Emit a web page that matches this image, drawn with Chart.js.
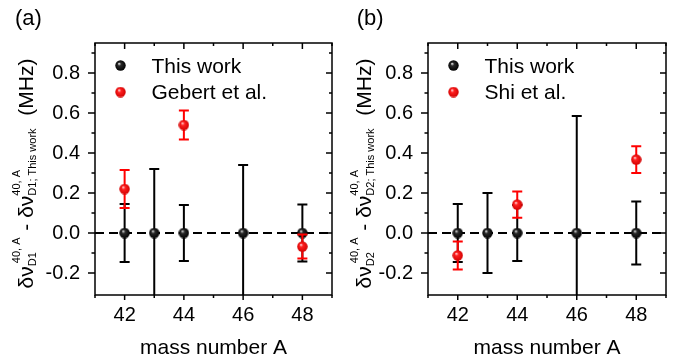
<!DOCTYPE html>
<html>
<head>
<meta charset="utf-8">
<script src="https://cdn.jsdelivr.net/npm/chart.js@4"></script>
<style>
  body { margin: 0; background: #fff; }
  .panel { position: absolute; top: 0; }
</style>
</head>
<body>
<div class="panel" style="left:0"><canvas id="chartA" width="340" height="358"></canvas></div>
<div class="panel" style="left:340px"><canvas id="chartB" width="333" height="358"></canvas></div>
<script>
const FONT = '"Liberation Sans", Arial, sans-serif'

// isotope shift differences (MHz) vs mass number
const massThisWork = [42, 43, 44, 46, 48]
const shiftThisWork = [0, 0, 0, 0, 0]
const errD1ThisWork = [0.145, 0.32, 0.14, 0.34, 0.143]
const errD2ThisWork = [0.145, 0.2, 0.14, 0.585, 0.157]

const massGebert = [42, 44, 48]
const shiftGebert = [0.22, 0.54, -0.068]
const errGebert = [0.095, 0.073, 0.06]

const massShi = [42, 44, 48]
const shiftShi = [-0.112, 0.142, 0.367]
const errShi = [0.07, 0.066, 0.067]

const xTicks = [42, 44, 46, 48]
const yTicks = [-0.2, 0, 0.2, 0.4, 0.6, 0.8]

function makeBall(light, mid, dark) {
  const c = document.createElement('canvas')
  c.width = 11
  c.height = 11
  const g = c.getContext('2d')
  const grad = g.createRadialGradient(4, 3.6, 0.2, 5.5, 5.5, 5.5)
  grad.addColorStop(0, light)
  grad.addColorStop(0.3, mid)
  grad.addColorStop(1, dark)
  g.fillStyle = grad
  g.beginPath()
  g.arc(5.5, 5.5, 5.2, 0, Math.PI * 2)
  g.fill()
  return c
}
const blackBall = makeBall('#e6e6e6', '#2a2a2a', '#000')
const redBall = makeBall('#ffe0e0', '#ff2020', '#d00000')

const toPoints = (xs, ys) => xs.map((x, i) => ({ x, y: ys[i] }))

function drawYTitle(ctx, line, baseX, midY) {
  const big = '21px ' + FONT
  const small = '11px ' + FONT
  const parts = [
    { t: 'δν' },
    { sub: line, sup: '40, A', supShift: 3 },
    { t: ' - ' },
    { t: 'δν' },
    { sub: line + '; This work', sup: '40, A', supShift: 0 },
    { t: '  (MHz)' }
  ]
  let total = 0
  parts.forEach(p => {
    if (p.t) {
      ctx.font = big
      p.w = ctx.measureText(p.t).width
    } else {
      ctx.font = small
      p.w = Math.max(ctx.measureText(p.sub).width, ctx.measureText(p.sup).width + p.supShift) + 1
    }
    total += p.w
  })
  ctx.save()
  ctx.translate(baseX, midY)
  ctx.rotate(-Math.PI / 2)
  ctx.fillStyle = '#000'
  ctx.textBaseline = 'alphabetic'
  ctx.textAlign = 'left'
  let u = -total / 2
  parts.forEach(p => {
    if (p.t) {
      ctx.font = big
      ctx.fillText(p.t, u, 0)
    } else {
      ctx.font = small
      ctx.fillText(p.sub, u, 3)
      ctx.fillText(p.sup, u + p.supShift, -13)
    }
    u += p.w
  })
  ctx.restore()
}

const framePlugin = {
  id: 'frame',
  beforeDatasetsDraw(chart) {
    const { ctx, chartArea: a, scales: { y } } = chart
    const y0 = y.getPixelForValue(0)
    ctx.save()
    ctx.strokeStyle = '#000'
    ctx.lineWidth = 2
    ctx.setLineDash([9, 5])
    ctx.beginPath()
    ctx.moveTo(a.left, y0)
    ctx.lineTo(a.right, y0)
    ctx.stroke()
    ctx.restore()
  },
  beforeDatasetDraw(chart, args) {
    const ds = chart.data.datasets[args.index]
    if (!ds.errors) return
    const { ctx, chartArea: a, scales: { y } } = chart
    ctx.save()
    ctx.beginPath()
    ctx.rect(a.left, a.top, a.right - a.left, a.bottom - a.top)
    ctx.clip()
    ctx.strokeStyle = ds.barColor
    ctx.lineWidth = 2
    args.meta.data.forEach((pt, i) => {
      const v = ds.data[i].y
      const e = ds.errors[i]
      const top = y.getPixelForValue(v + e)
      const bot = y.getPixelForValue(v - e)
      ctx.beginPath()
      ctx.moveTo(pt.x, top)
      ctx.lineTo(pt.x, bot)
      ctx.moveTo(pt.x - 5, top)
      ctx.lineTo(pt.x + 5, top)
      ctx.moveTo(pt.x - 5, bot)
      ctx.lineTo(pt.x + 5, bot)
      ctx.stroke()
    })
    ctx.restore()
  },
  afterDraw(chart, args, opts) {
    const { ctx, chartArea: a, scales: { x, y } } = chart
    ctx.save()
    ctx.strokeStyle = '#000'
    ctx.lineWidth = 1.5
    ctx.strokeRect(a.left, a.top, a.right - a.left, a.bottom - a.top)
    ctx.beginPath()
    for (let v = x.min; v <= x.max; v++) {
      const px = x.getPixelForValue(v)
      const major = v % 2 === 0
      ctx.moveTo(px, a.bottom)
      ctx.lineTo(px, a.bottom + (major ? 5 : 3))
      ctx.moveTo(px, a.top)
      ctx.lineTo(px, a.top + (major ? 6 : 3))
    }
    for (let k = -3; k <= 9; k++) {
      const py = y.getPixelForValue(k / 10)
      if (py > a.bottom - 3 || py < a.top + 3) continue
      const major = k % 2 === 0
      ctx.moveTo(a.left, py)
      ctx.lineTo(a.left - (major ? 7 : 3.5), py)
      ctx.moveTo(a.right, py)
      ctx.lineTo(a.right - (major ? 6 : 3), py)
    }
    ctx.stroke()

    // legend
    ctx.fillStyle = '#000'
    ctx.textBaseline = 'alphabetic'
    ctx.font = '21px ' + FONT
    chart.data.datasets.forEach((ds, i) => {
      const cy = a.top + 22.5 + i * 26.5
      ctx.drawImage(ds.pointStyle, a.left + 25.5 - 5.5, cy - 5.5)
      ctx.fillText(ds.label, a.left + 56.5, cy + 7)
    })

    // panel letter
    ctx.font = '22px ' + FONT
    ctx.fillText(opts.letter, opts.letterX, 25.3)
    ctx.restore()

    drawYTitle(ctx, opts.line, opts.titleX, 173.5)
  }
}

function makeChart(id, cfg) {
  new Chart(id, {
    type: 'scatter',
    data: {
      datasets: [{
        label: 'This work',
        data: toPoints(massThisWork, shiftThisWork),
        errors: cfg.ownErr,
        barColor: '#000',
        pointStyle: blackBall,
        pointRadius: 5,
        order: 1
      }, {
        label: cfg.otherLabel,
        data: toPoints(cfg.otherX, cfg.otherY),
        errors: cfg.otherErr,
        barColor: '#ff0000',
        pointStyle: redBall,
        pointRadius: 5,
        order: 0
      }]
    },
    options: {
      responsive: false,
      animation: false,
      events: [],
      layout: { padding: { top: 43, right: cfg.padRight, left: 0, bottom: 0 } },
      scales: {
        x: {
          type: 'linear',
          min: 41,
          max: 49,
          afterBuildTicks: scale => { scale.ticks = xTicks.map(value => ({ value })) },
          afterFit: scale => { scale.height = 63 },
          grid: { display: false, drawTicks: false },
          border: { display: false },
          ticks: { color: '#000', font: { family: FONT, size: 20 }, padding: 8, maxRotation: 0 },
          title: {
            display: true,
            text: 'mass number A',
            color: '#000',
            font: { family: FONT, size: 21, lineHeight: 0.9 },
            padding: 0
          }
        },
        y: {
          min: -0.31,
          max: 0.95,
          afterBuildTicks: scale => { scale.ticks = yTicks.map(value => ({ value })) },
          afterFit: scale => { scale.width = cfg.yWidth },
          grid: { display: false, drawTicks: false },
          border: { display: false },
          ticks: {
            color: '#000',
            font: { family: FONT, size: 20 },
            padding: 15,
            callback: v => v.toFixed(1)
          }
        }
      },
      plugins: {
        legend: { display: false },
        tooltip: { enabled: false },
        frame: { letter: cfg.letter, letterX: cfg.letterX, line: cfg.line, titleX: cfg.titleX }
      }
    },
    plugins: [framePlugin]
  })
}

makeChart('chartA', {
  letter: '(a)', letterX: 15, line: 'D1', titleX: 33,
  ownErr: errD1ThisWork,
  otherLabel: 'Gebert et al.', otherX: massGebert, otherY: shiftGebert, otherErr: errGebert,
  yWidth: 95, padRight: 8
})

makeChart('chartB', {
  letter: '(b)', letterX: 16.7, line: 'D2', titleX: 31.3,
  ownErr: errD2ThisWork,
  otherLabel: 'Shi et al.', otherX: massShi, otherY: shiftShi, otherErr: errShi,
  yWidth: 88, padRight: 7
})
</script>
</body>
</html>
